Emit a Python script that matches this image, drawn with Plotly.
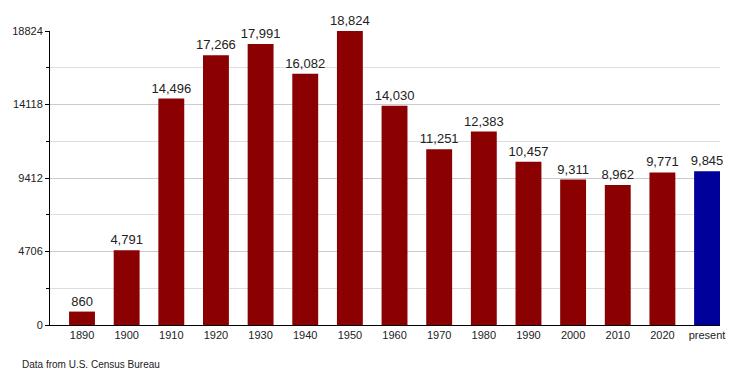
import plotly.graph_objects as go

categories = ["1890", "1900", "1910", "1920", "1930", "1940", "1950", "1960",
              "1970", "1980", "1990", "2000", "2010", "2020", "present"]
population = [860, 4791, 14496, 17266, 17991, 16082, 18824, 14030,
              11251, 12383, 10457, 9311, 8962, 9771, 9845]
ytick_vals = [0, 4706, 9412, 14118, 18824]
bar_colors = ["#8B0000"] * 14 + ["#00009B"]

# the page body has an 8px default margin, so the figure is sized to fill the rest
fig = go.Figure()
fig.add_trace(go.Bar(
    x=list(range(len(categories))), y=population,
    marker=dict(color=bar_colors, line=dict(width=0)),
    width=0.58,
    text=[f"{v:,}" for v in population], textposition="outside",
    constraintext="none",
    textfont=dict(size=13, color="#222", family="Liberation Sans, Arial"),
    cliponaxis=False,
))
fig.update_layout(
    width=742, height=367,
    margin=dict(l=42, r=30, t=23, b=50, autoexpand=False),
    plot_bgcolor="white", paper_bgcolor="white",
    showlegend=False,
    font=dict(family="Liberation Sans, Arial", size=11, color="#222"),
    xaxis=dict(
        tickmode="array", tickvals=list(range(len(categories))), ticktext=categories,
        range=[-0.717, 14.29], showgrid=False, showline=True, linecolor="black",
        linewidth=1, ticks="", tickfont=dict(size=11), automargin=False,
    ),
    yaxis=dict(
        range=[0, 18824], tickmode="array", tickvals=ytick_vals,
        ticktext=[str(v) for v in ytick_vals], automargin=False,
        showgrid=True, gridcolor="#cccccc", gridwidth=1,
        showline=True, linecolor="black", linewidth=1,
        ticks="outside", ticklen=4, tickcolor="black", zeroline=False,
        tickfont=dict(size=11),
        minor=dict(tickvals=[2353, 7059, 11765, 16471], showgrid=True,
                   gridcolor="#dddddd", ticks="outside", ticklen=3, tickcolor="black"),
    ),
    bargap=0.42,
)
fig.add_annotation(text="Data from U.S. Census Bureau", xref="paper", yref="paper",
                   x=-42/670, y=-(364-325)/294, xanchor="left", yanchor="middle",
                   xshift=12, showarrow=False, font=dict(size=10, color="#222"))
fig.write_html("out.html")
